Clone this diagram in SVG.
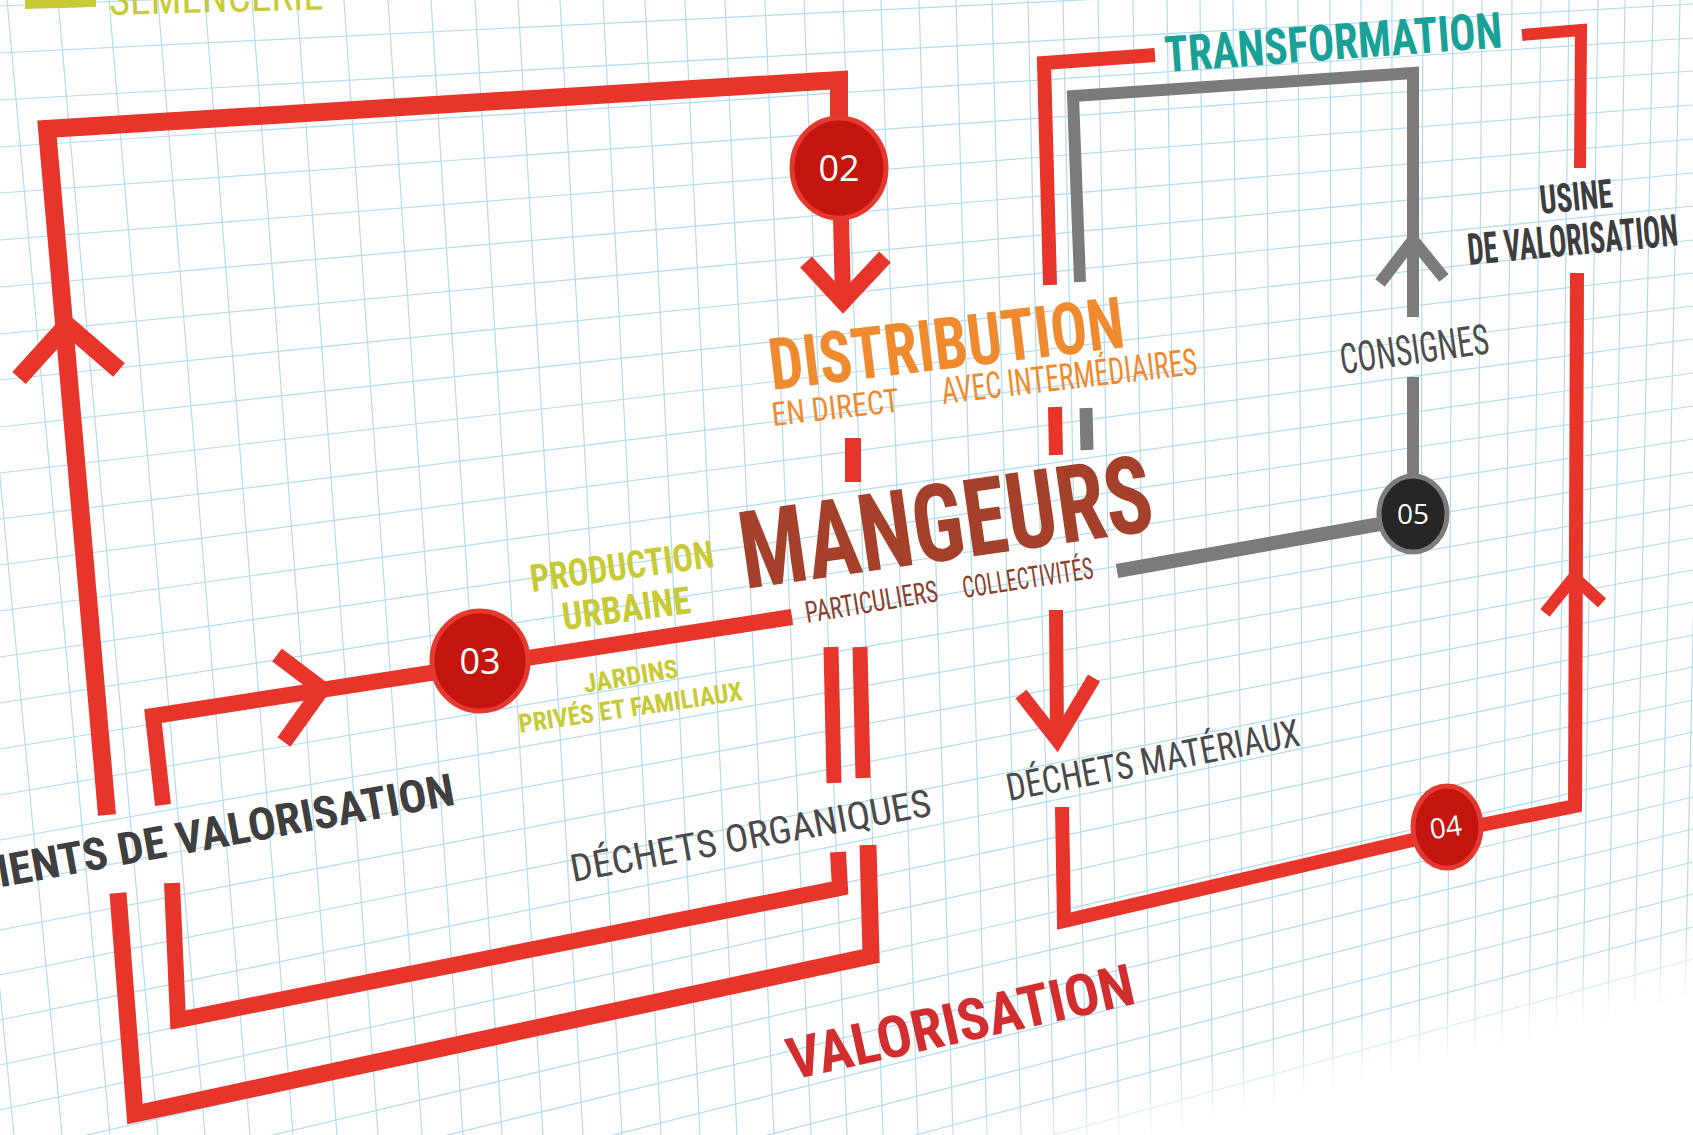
<svg xmlns="http://www.w3.org/2000/svg" width="1693" height="1135" viewBox="0 0 1693 1135">
<defs>
<style>
.g line{stroke:#b0dcee;stroke-width:1.2}
.r{fill:none;stroke:#e8352c;stroke-linejoin:miter;stroke-linecap:butt}
.k{fill:none;stroke:#7b7b7b;stroke-linejoin:miter;stroke-linecap:butt}
.t{font-family:"Liberation Sans Narrow","Roboto Condensed","Liberation Sans",Arial,sans-serif;font-stretch:condensed}
.b{font-weight:bold}
.n{font-family:"Open Sans","Noto Sans",sans-serif;fill:#fff;text-anchor:middle}
.cr{fill:#c4150f;stroke:#e5392f;stroke-width:5}
.ck{fill:#262626;stroke:#7d7d7d;stroke-width:5}
</style>
<linearGradient id="fade" gradientUnits="userSpaceOnUse" x1="1357" y1="1013" x2="1375" y2="1081">
<stop offset="0" stop-color="#fff" stop-opacity="0"/>
<stop offset="1" stop-color="#fff" stop-opacity="1"/>
</linearGradient>
</defs>
<rect width="1693" height="1135" fill="#fff"/>
<g id="grid" class="g">
<line x1="-97" y1="0" x2="14" y2="1135"/><line x1="-45" y1="0" x2="62" y2="1135"/>
<line x1="7" y1="0" x2="110" y2="1135"/><line x1="58" y1="0" x2="158" y2="1135"/>
<line x1="109" y1="0" x2="205" y2="1135"/><line x1="158" y1="0" x2="250" y2="1135"/>
<line x1="205" y1="0" x2="293" y2="1135"/><line x1="252" y1="0" x2="337" y2="1135"/>
<line x1="297" y1="0" x2="378" y2="1135"/><line x1="344" y1="0" x2="422" y2="1135"/>
<line x1="388" y1="0" x2="463" y2="1135"/><line x1="431" y1="0" x2="502" y2="1135"/>
<line x1="475" y1="0" x2="543" y2="1135"/><line x1="518" y1="0" x2="583" y2="1135"/>
<line x1="560" y1="0" x2="622" y2="1135"/><line x1="603" y1="0" x2="661" y2="1135"/>
<line x1="645" y1="0" x2="700" y2="1135"/><line x1="685" y1="0" x2="737" y2="1135"/>
<line x1="725" y1="0" x2="774" y2="1135"/><line x1="765" y1="0" x2="811" y2="1135"/>
<line x1="804" y1="0" x2="847" y2="1135"/><line x1="843" y1="0" x2="883" y2="1135"/>
<line x1="881" y1="0" x2="918" y2="1135"/><line x1="919" y1="0" x2="953" y2="1135"/>
<line x1="956" y1="0" x2="987" y2="1135"/><line x1="992" y1="0" x2="1021" y2="1135"/>
<line x1="1028" y1="0" x2="1054" y2="1135"/><line x1="1063" y1="0" x2="1087" y2="1135"/>
<line x1="1098" y1="0" x2="1119" y2="1135"/><line x1="1133" y1="0" x2="1151" y2="1135"/>
<line x1="1167" y1="0" x2="1182" y2="1135"/><line x1="1200" y1="0" x2="1213" y2="1135"/>
<line x1="1233" y1="0" x2="1244" y2="1135"/><line x1="1266" y1="0" x2="1274" y2="1135"/>
<line x1="1298" y1="0" x2="1304" y2="1135"/><line x1="1330" y1="0" x2="1333" y2="1135"/>
<line x1="1361" y1="0" x2="1362" y2="1135"/><line x1="1392" y1="0" x2="1391" y2="1135"/>
<line x1="1423" y1="0" x2="1419" y2="1135"/><line x1="1453" y1="0" x2="1447" y2="1135"/>
<line x1="1482" y1="0" x2="1474" y2="1135"/><line x1="1512" y1="0" x2="1501" y2="1135"/>
<line x1="1541" y1="0" x2="1528" y2="1135"/><line x1="1569" y1="0" x2="1555" y2="1135"/>
<line x1="1598" y1="0" x2="1581" y2="1135"/><line x1="1625" y1="0" x2="1606" y2="1135"/>
<line x1="1653" y1="0" x2="1632" y2="1135"/><line x1="1680" y1="0" x2="1657" y2="1135"/>
<line x1="1707" y1="0" x2="1682" y2="1135"/>
<line x1="0" y1="6" x2="1693" y2="-63"/><line x1="0" y1="53" x2="1693" y2="-30"/>
<line x1="0" y1="100" x2="1693" y2="4"/><line x1="0" y1="147" x2="1693" y2="38"/>
<line x1="0" y1="193" x2="1693" y2="71"/><line x1="0" y1="240" x2="1693" y2="105"/>
<line x1="0" y1="287" x2="1693" y2="139"/><line x1="0" y1="334" x2="1693" y2="173"/>
<line x1="0" y1="380" x2="1693" y2="206"/><line x1="0" y1="427" x2="1693" y2="240"/>
<line x1="0" y1="473" x2="1693" y2="273"/><line x1="0" y1="519" x2="1693" y2="306"/>
<line x1="0" y1="565" x2="1693" y2="339"/><line x1="0" y1="611" x2="1693" y2="373"/>
<line x1="0" y1="657" x2="1693" y2="406"/><line x1="0" y1="703" x2="1693" y2="439"/>
<line x1="0" y1="749" x2="1693" y2="472"/><line x1="0" y1="795" x2="1693" y2="505"/>
<line x1="0" y1="840" x2="1693" y2="538"/><line x1="0" y1="885" x2="1693" y2="570"/>
<line x1="0" y1="930" x2="1693" y2="602"/><line x1="0" y1="975" x2="1693" y2="635"/>
<line x1="0" y1="1020" x2="1693" y2="667"/><line x1="0" y1="1065" x2="1693" y2="700"/>
<line x1="0" y1="1110" x2="1693" y2="732"/><line x1="0" y1="1155" x2="1693" y2="765"/>
<line x1="0" y1="1200" x2="1693" y2="797"/><line x1="0" y1="1245" x2="1693" y2="829"/>
<line x1="0" y1="1290" x2="1693" y2="862"/><line x1="0" y1="1335" x2="1693" y2="894"/>
<line x1="0" y1="1380" x2="1693" y2="927"/><line x1="0" y1="1425" x2="1693" y2="959"/>
<line x1="0" y1="1470" x2="1693" y2="992"/><line x1="0" y1="1515" x2="1693" y2="1024"/>
<line x1="0" y1="1560" x2="1693" y2="1056"/><line x1="0" y1="1605" x2="1693" y2="1089"/>
<line x1="0" y1="1650" x2="1693" y2="1121"/>
</g>
<polygon points="1693,850 800,1135 1693,1135" fill="url(#fade)"/>

<g id="connectors">
<path class="r" stroke-width="18" d="M839,122 L839,80 L47,129 L107,815"/>
<path class="r" stroke-width="18" d="M19,378 L67,325 L119,370"/>
<path class="r" stroke-width="17" d="M118,893 L135,1114 L871,956 L868,845"/>
<path class="r" stroke-width="15" d="M860,647 L863,778"/>
<path class="r" stroke-width="16" d="M792,617 L153,716 L163,805"/>
<path class="r" stroke-width="16" d="M277,655 L322,689 L284,742"/>
<path class="r" stroke-width="16" d="M172,883 L178,1020 L840,888 L838,852"/>
<path class="r" stroke-width="15" d="M831,647 L834,783"/>
<path class="r" stroke-width="16" d="M841,218 L843,300"/>
<path class="r" stroke-width="16" d="M806,262 L843,302 L885,257"/>
<path class="r" stroke-width="16" d="M853,438 L853,482"/>
<path class="r" stroke-width="14" d="M1155,55 L1044,63 L1050,285"/>
<path class="r" stroke-width="14" d="M1055,407 L1056,455"/>
<path class="r" stroke-width="14" d="M1056,610 L1057,738"/>
<path class="r" stroke-width="14" d="M1021,694 L1057,740 L1094,678"/>
<path class="r" stroke-width="14" d="M1062,807 L1064,921 L1447,832 L1575,806 L1577,273"/>
<path class="r" stroke-width="12" d="M1545,613 L1574,577 L1602,603"/>
<path class="r" stroke-width="12" d="M1580,168 L1581,30 L1522,35"/>
<path class="k" stroke-width="14" d="M1117,571 L1380,524"/>
<path class="k" stroke-width="12" d="M1413,478 L1413,377"/>
<path class="k" stroke-width="12" d="M1413,317 L1413,73 L1073,96 L1080,282"/>
<path class="k" stroke-width="12" d="M1380,283 L1413,240 L1444,278"/>
<path class="k" stroke-width="13" d="M1086,408 L1087,450"/>
</g>

<g id="node-02"><ellipse class="cr" cx="839" cy="168" rx="47" ry="50"/><text class="n" x="839" y="181" font-size="36">02</text></g>
<g id="node-03"><ellipse class="cr" cx="480" cy="661" rx="48" ry="50"/><text class="n" x="480" y="674" font-size="36">03</text></g>
<g id="node-04"><ellipse class="cr" cx="1447" cy="827" rx="34" ry="41"/><text class="n" font-size="28" transform="translate(1447,837) rotate(-8)">04</text></g>
<g id="node-05"><ellipse class="ck" cx="1413" cy="514" rx="34" ry="38"/><text class="n" x="1413" y="524" font-size="28">05</text></g>

<g id="semencerie">
<polygon points="25,0 96,0 96,7 25,9" fill="#c8ca35"/>
<text class="t" fill="#c8ca35" font-size="44" transform="translate(109,15) rotate(-1.5)" textLength="215" lengthAdjust="spacingAndGlyphs">SEMENCERIE</text>
</g>
<g id="transformation"><text class="t b" fill="#1aa197" font-size="50" transform="translate(1166,72) rotate(-4.2)" textLength="338" lengthAdjust="spacingAndGlyphs">TRANSFORMATION</text></g>
<g id="usine">
<text class="t b" fill="#3d3d3d" font-size="40" transform="translate(1541,214) rotate(-5.5)" textLength="73" lengthAdjust="spacingAndGlyphs">USINE</text>
<text class="t b" fill="#3d3d3d" font-size="44" transform="translate(1469,265) rotate(-5.4)" textLength="211" lengthAdjust="spacingAndGlyphs">DE VALORISATION</text>
</g>
<g id="consignes"><text class="t" fill="#4d4d4d" font-size="42" transform="translate(1342,374) rotate(-8)" textLength="150" lengthAdjust="spacingAndGlyphs">CONSIGNES</text></g>
<g id="distribution">
<text class="t b" fill="#ef8a2e" font-size="72" transform="translate(772,390) rotate(-6.9)" textLength="357" lengthAdjust="spacingAndGlyphs">DISTRIBUTION</text>
<text class="t" fill="#ef8a2e" font-size="33" transform="translate(773,426) rotate(-6.5)" textLength="128" lengthAdjust="spacingAndGlyphs">EN DIRECT</text>
<text class="t" fill="#ef8a2e" font-size="37" transform="translate(943,404) rotate(-6.7)" textLength="257" lengthAdjust="spacingAndGlyphs">AVEC INTERMÉDIAIRES</text>
</g>
<g id="mangeurs">
<text class="t b" fill="#a5412a" font-size="108" transform="translate(745,589) rotate(-8.15)" textLength="416" lengthAdjust="spacingAndGlyphs">MANGEURS</text>
<text class="t" fill="#8b3f2d" font-size="30" transform="translate(807,623) rotate(-9.5)" textLength="134" lengthAdjust="spacingAndGlyphs">PARTICULIERS</text>
<text class="t" fill="#8b3f2d" font-size="30" transform="translate(964,598) rotate(-8.7)" textLength="132" lengthAdjust="spacingAndGlyphs">COLLECTIVITÉS</text>
</g>
<g id="production">
<text class="t b" fill="#c8ca35" font-size="38" transform="translate(532,592) rotate(-7.8)" textLength="185" lengthAdjust="spacingAndGlyphs">PRODUCTION</text>
<text class="t b" fill="#c8ca35" font-size="38" transform="translate(564,630) rotate(-7.6)" textLength="129" lengthAdjust="spacingAndGlyphs">URBAINE</text>
<text class="t b" fill="#c8ca35" font-size="26" transform="translate(585,693) rotate(-9.6)" textLength="96" lengthAdjust="spacingAndGlyphs">JARDINS</text>
<text class="t b" fill="#c8ca35" font-size="26" transform="translate(520,733) rotate(-8.4)" textLength="226" lengthAdjust="spacingAndGlyphs">PRIVÉS ET FAMILIAUX</text>
</g>
<g id="elements-valorisation"><text class="t b" fill="#3f3f3f" font-size="45" transform="translate(-22.5,891.5) rotate(-10.3)" textLength="487" lengthAdjust="spacingAndGlyphs">MENTS DE VALORISATION</text></g>
<g id="dechets-organiques"><text class="t" fill="#4a4a4a" font-size="38" transform="translate(573,882) rotate(-10.5)" textLength="366" lengthAdjust="spacingAndGlyphs">DÉCHETS ORGANIQUES</text></g>
<g id="dechets-materiaux"><text class="t" fill="#4a4a4a" font-size="38" transform="translate(1009,801) rotate(-10.8)" textLength="298" lengthAdjust="spacingAndGlyphs">DÉCHETS MATÉRIAUX</text></g>
<g id="valorisation"><text class="t b" fill="#d22d2f" font-size="58" transform="translate(792,1080) rotate(-12.5)" textLength="354" lengthAdjust="spacingAndGlyphs">VALORISATION</text></g>
</svg>
